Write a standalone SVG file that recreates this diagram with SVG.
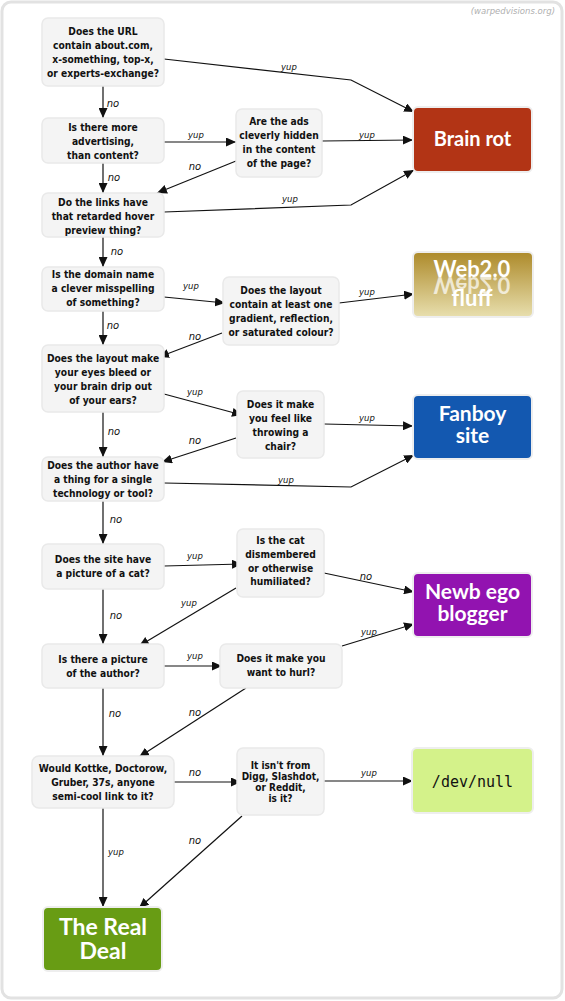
<svg xmlns="http://www.w3.org/2000/svg" width="565" height="1001" viewBox="0 0 565 1001">
<style>
.frame{fill:#fff;stroke:#e2e2e2;stroke-width:3}
.q{fill:#f4f4f4;stroke:#e9e9e9;stroke-width:1.5}
.qt{font-family:"DejaVu Sans Condensed","DejaVu Sans",sans-serif;font-stretch:condensed;font-weight:bold;font-size:10.2px;fill:#111;text-anchor:middle}
.qs{font-size:10px}
.r{stroke:#eeeeee;stroke-width:2}
.rt{font-family:Lato,"DejaVu Sans",sans-serif;font-weight:bold;fill:#fff;text-anchor:middle}
.c{fill:none;stroke:#111;stroke-width:1.2;marker-end:url(#ah)}
.lb{font-family:"DejaVu Sans",Lato,sans-serif;font-style:italic;fill:#111;text-anchor:middle}
.no{font-size:10px}
.yup{font-size:8.5px}
.wm{font-family:"DejaVu Sans",sans-serif;font-style:italic;font-size:8.5px;fill:#b0b0b0;text-anchor:end}
</style>
<defs>
<marker id="ah" viewBox="0 0 10 9" refX="10" refY="4.5" markerWidth="10" markerHeight="9" markerUnits="userSpaceOnUse" orient="auto">
<path d="M0,0 L10,4.5 L0,9 z" fill="#111"/>
</marker>
<linearGradient id="web" x1="0" y1="0" x2="0" y2="1">
<stop offset="0" stop-color="#ad8a2a"/>
<stop offset="1" stop-color="#e8dfae"/>
</linearGradient>
<linearGradient id="refl" x1="0" y1="0" x2="0" y2="1">
<stop offset="0" stop-color="#fff" stop-opacity="0.1"/>
<stop offset="1" stop-color="#fff" stop-opacity="0.6"/>
</linearGradient>
</defs>
<rect class="frame" x="2" y="2" width="560" height="996" rx="9"/>
<text class="wm" x="555" y="14">(warpedvisions.org)</text>

<g id="connectors">
<polyline class="c" points="164,59 351,80 414,112"/>
<line class="c" x1="103" y1="86" x2="103" y2="118"/>
<line class="c" x1="164" y1="142" x2="236" y2="142"/>
<line class="c" x1="322" y1="141" x2="413" y2="140"/>
<line class="c" x1="236" y1="161" x2="157" y2="193"/>
<line class="c" x1="103" y1="163" x2="103" y2="193"/>
<polyline class="c" points="164,212 351,205 414,170"/>
<line class="c" x1="103" y1="237" x2="103" y2="267"/>
<line class="c" x1="164" y1="297" x2="225" y2="303"/>
<line class="c" x1="339" y1="303" x2="414" y2="294"/>
<line class="c" x1="222" y1="333" x2="159" y2="357"/>
<line class="c" x1="103" y1="311" x2="103" y2="345"/>
<line class="c" x1="164" y1="394" x2="242" y2="415"/>
<line class="c" x1="324" y1="424" x2="413" y2="426"/>
<line class="c" x1="236" y1="438" x2="162" y2="462"/>
<line class="c" x1="103" y1="412" x2="103" y2="457"/>
<polyline class="c" points="164,483 351,487 414,455"/>
<line class="c" x1="103" y1="501" x2="103" y2="544"/>
<line class="c" x1="164" y1="566" x2="242" y2="564"/>
<line class="c" x1="324" y1="573" x2="414" y2="592"/>
<line class="c" x1="236" y1="588" x2="139" y2="646"/>
<line class="c" x1="103" y1="589" x2="103" y2="644"/>
<line class="c" x1="164" y1="666" x2="222" y2="666"/>
<line class="c" x1="342" y1="646" x2="414" y2="624"/>
<line class="c" x1="246" y1="688" x2="139" y2="757"/>
<line class="c" x1="103" y1="688" x2="103" y2="756"/>
<line class="c" x1="174" y1="782" x2="241" y2="782"/>
<line class="c" x1="324" y1="781" x2="413" y2="781"/>
<line class="c" x1="242" y1="816" x2="139" y2="908"/>
<line class="c" x1="103" y1="808" x2="103" y2="907"/>

<text class="lb yup" x="289" y="70">yup</text>
<text class="lb no" x="113" y="107">no</text>
<text class="lb yup" x="196" y="138">yup</text>
<text class="lb yup" x="367" y="138">yup</text>
<text class="lb no" x="195" y="170">no</text>
<text class="lb no" x="114" y="181">no</text>
<text class="lb yup" x="290" y="202">yup</text>
<text class="lb no" x="117" y="255">no</text>
<text class="lb yup" x="191" y="289">yup</text>
<text class="lb yup" x="367" y="295">yup</text>
<text class="lb no" x="195" y="340">no</text>
<text class="lb no" x="113" y="329">no</text>
<text class="lb yup" x="195" y="395">yup</text>
<text class="lb yup" x="367" y="421">yup</text>
<text class="lb no" x="195" y="444">no</text>
<text class="lb no" x="114" y="435">no</text>
<text class="lb yup" x="286" y="483">yup</text>
<text class="lb no" x="116" y="523">no</text>
<text class="lb yup" x="195" y="559">yup</text>
<text class="lb no" x="366" y="580">no</text>
<text class="lb yup" x="189" y="606">yup</text>
<text class="lb no" x="116" y="619">no</text>
<text class="lb yup" x="195" y="659">yup</text>
<text class="lb yup" x="369" y="635">yup</text>
<text class="lb no" x="195" y="716">no</text>
<text class="lb no" x="115" y="717">no</text>
<text class="lb no" x="195" y="776">no</text>
<text class="lb yup" x="369" y="776">yup</text>
<text class="lb no" x="195" y="844">no</text>
<text class="lb yup" x="116" y="855">yup</text>
</g>

<g id="q1"><rect class="q" x="42" y="18" width="122" height="68" rx="6"/>
<text class="qt" x="103" y="35"><tspan x="103">Does the URL</tspan><tspan x="103" dy="14">contain about.com,</tspan><tspan x="103" dy="14">x-something, top-x,</tspan><tspan x="103" dy="14">or experts-exchange?</tspan></text></g>

<g id="q2"><rect class="q" x="42" y="118" width="122" height="45" rx="6"/>
<text class="qt" x="103" y="131"><tspan x="103">Is there more</tspan><tspan x="103" dy="14">advertising,</tspan><tspan x="103" dy="14">than content?</tspan></text></g>

<g id="q3"><rect class="q" x="236" y="109" width="86" height="68" rx="6"/>
<text class="qt" x="279" y="125"><tspan x="279">Are the ads</tspan><tspan x="279" dy="14">cleverly hidden</tspan><tspan x="279" dy="14">in the content</tspan><tspan x="279" dy="14">of the page?</tspan></text></g>

<g id="q4"><rect class="q" x="42" y="193" width="122" height="44" rx="6"/>
<text class="qt" x="103" y="206"><tspan x="103">Do the links have</tspan><tspan x="103" dy="14">that retarded hover</tspan><tspan x="103" dy="14">preview thing?</tspan></text></g>

<g id="q5"><rect class="q" x="42" y="267" width="122" height="44" rx="6"/>
<text class="qt" x="103" y="278"><tspan x="103">Is the domain name</tspan><tspan x="103" dy="14">a clever misspelling</tspan><tspan x="103" dy="14">of something?</tspan></text></g>

<g id="q6"><rect class="q" x="223" y="277" width="116" height="68" rx="6"/>
<text class="qt" x="281" y="294"><tspan x="281">Does the layout</tspan><tspan x="281" dy="14">contain at least one</tspan><tspan x="281" dy="14">gradient, reflection,</tspan><tspan x="281" dy="14">or saturated colour?</tspan></text></g>

<g id="q7"><rect class="q" x="42" y="345" width="122" height="67" rx="6"/>
<text class="qt" x="103" y="362"><tspan x="103">Does the layout make</tspan><tspan x="103" dy="14">your eyes bleed or</tspan><tspan x="103" dy="14">your brain drip out</tspan><tspan x="103" dy="14">of your ears?</tspan></text></g>

<g id="q8"><rect class="q" x="237" y="391" width="87" height="67" rx="6"/>
<text class="qt" x="280.5" y="408"><tspan x="280.5">Does it make</tspan><tspan x="280.5" dy="14">you feel like</tspan><tspan x="280.5" dy="14">throwing a</tspan><tspan x="280.5" dy="14">chair?</tspan></text></g>

<g id="q9"><rect class="q" x="42" y="457" width="122" height="44" rx="6"/>
<text class="qt" x="103" y="469"><tspan x="103">Does the author have</tspan><tspan x="103" dy="14">a thing for a single</tspan><tspan x="103" dy="14">technology or tool?</tspan></text></g>

<g id="q10"><rect class="q" x="42" y="544" width="122" height="45" rx="6"/>
<text class="qt" x="103" y="563"><tspan x="103">Does the site have</tspan><tspan x="103" dy="14">a picture of a cat?</tspan></text></g>

<g id="q11"><rect class="q" x="237" y="529" width="87" height="68" rx="6"/>
<text class="qt" x="280.5" y="544"><tspan x="280.5">Is the cat</tspan><tspan x="280.5" dy="13.8">dismembered</tspan><tspan x="280.5" dy="13.8">or otherwise</tspan><tspan x="280.5" dy="13.8">humiliated?</tspan></text></g>

<g id="q12"><rect class="q" x="42" y="644" width="122" height="44" rx="6"/>
<text class="qt" x="103" y="663"><tspan x="103">Is there a picture</tspan><tspan x="103" dy="14">of the author?</tspan></text></g>

<g id="q13"><rect class="q" x="220" y="644" width="122" height="44" rx="6"/>
<text class="qt" x="281" y="662"><tspan x="281">Does it make you</tspan><tspan x="281" dy="14">want to hurl?</tspan></text></g>

<g id="q14"><rect class="q" x="32" y="756" width="142" height="52" rx="7"/>
<text class="qt" x="103" y="772"><tspan x="103">Would Kottke, Doctorow,</tspan><tspan x="103" dy="14">Gruber, 37s, anyone</tspan><tspan x="103" dy="14">semi-cool link to it?</tspan></text></g>

<g id="q15"><rect class="q" x="237" y="748" width="87" height="67" rx="6"/>
<text class="qt qs" x="280.5" y="768.5"><tspan x="280.5">It isn't from</tspan><tspan x="280.5" dy="11.2">Digg, Slashdot,</tspan><tspan x="280.5" dy="11.2">or Reddit,</tspan><tspan x="280.5" dy="11.2">is it?</tspan></text></g>

<g id="brainrot"><rect class="r" x="413" y="107" width="119" height="65" rx="5" fill="#b23415"/>
<text class="rt" x="472.5" y="146" font-size="20">Brain rot</text></g>

<g id="web20"><rect class="r" x="413" y="252" width="120" height="65" rx="5" fill="url(#web)"/>
<text class="rt" x="472" y="277" font-size="22">Web2.0</text>
<text class="rt" x="472" y="277" font-size="22" fill="url(#refl)" opacity="0.7" transform="translate(0,554) scale(1,-1)">Web2.0</text>
<text class="rt" x="472" y="306" font-size="22">fluff</text></g>

<g id="fanboy"><rect class="r" x="413" y="395" width="119" height="64" rx="5" fill="#1358b0"/>
<text class="rt" x="472.5" y="421" font-size="21">Fanboy</text>
<text class="rt" x="472.5" y="443" font-size="21">site</text></g>

<g id="newb"><rect class="r" x="413" y="573" width="119" height="64" rx="5" fill="#9213b0"/>
<text class="rt" x="472.5" y="599" font-size="21">Newb ego</text>
<text class="rt" x="472.5" y="621" font-size="21">blogger</text></g>

<g id="devnull"><rect class="r" x="412" y="748" width="121" height="65" rx="5" fill="#d4f28a"/>
<text x="472.5" y="787" font-family="'DejaVu Sans Mono','Liberation Mono',monospace" font-size="15" fill="#111" text-anchor="middle">/dev/null</text></g>

<g id="realdeal"><rect class="r" x="43" y="907" width="119" height="64" rx="5" fill="#689c14"/>
<text class="rt" x="103" y="935" font-size="23">The Real</text>
<text class="rt" x="103" y="959" font-size="23">Deal</text></g>
</svg>
